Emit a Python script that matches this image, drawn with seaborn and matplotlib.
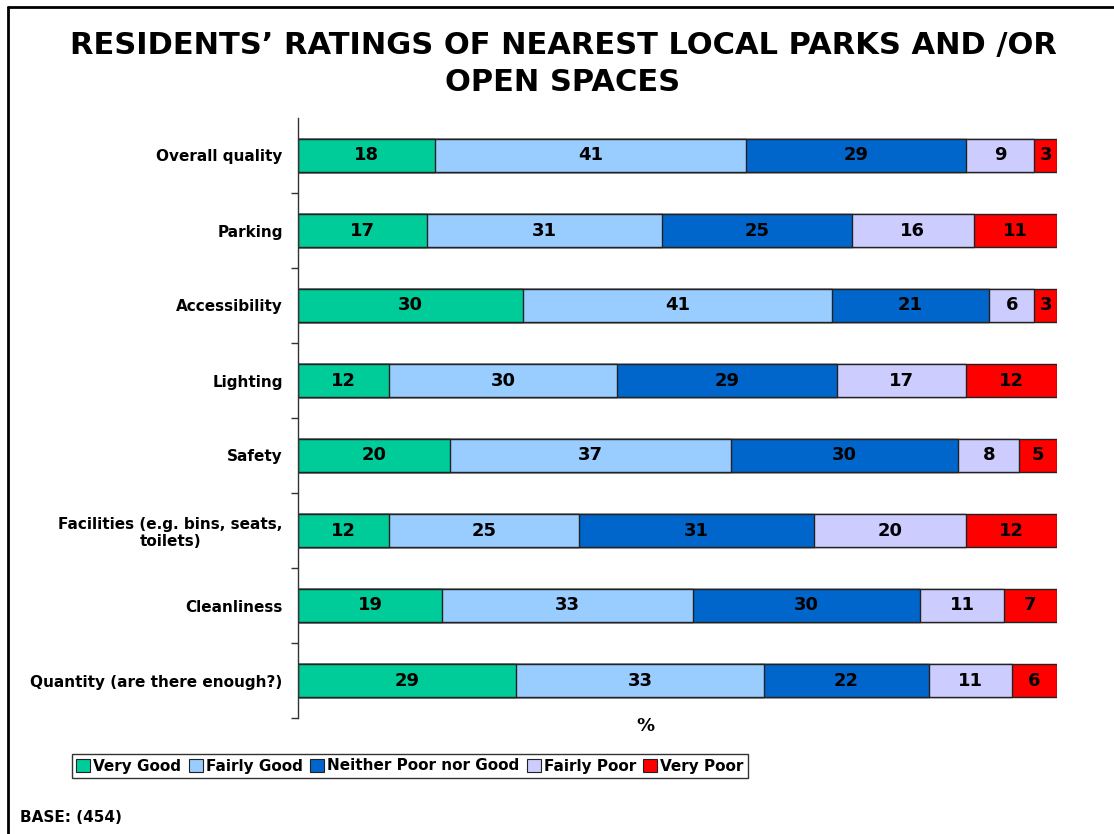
import numpy as np
import pandas as pd
import matplotlib
matplotlib.use("Agg")
import matplotlib.pyplot as plt
from matplotlib.lines import Line2D
from matplotlib.patches import Patch
from matplotlib.ticker import FixedLocator
import seaborn as sns

categories = ["Overall quality", "Parking", "Accessibility", "Lighting", "Safety",
              "Facilities (e.g. bins, seats,\ntoilets)", "Cleanliness",
              "Quantity (are there enough?)"]
series_names = ["Very Good", "Fairly Good", "Neither Poor nor Good", "Fairly Poor", "Very Poor"]
very_good = [18, 17, 30, 12, 20, 12, 19, 29]
fairly_good = [41, 31, 41, 30, 37, 25, 33, 33]
neither = [29, 25, 21, 29, 30, 31, 30, 22]
fairly_poor = [9, 16, 6, 17, 8, 20, 11, 11]
very_poor = [3, 11, 3, 12, 5, 12, 7, 6]
colors = ["#00CC99", "#99CCFF", "#0066CC", "#CCCCFF", "#FF0000"]

title = "RESIDENTS\u2019 RATINGS OF NEAREST LOCAL PARKS AND /OR\nOPEN SPACES"
x_label = "%"
base_text = "BASE: (454)"

sns.set_theme(style="white")
plt.rcParams["font.family"] = ["DejaVu Sans"]
plt.rcParams["text.color"] = "black"
plt.rcParams["ytick.labelcolor"] = "black"
plt.rcParams["xtick.labelcolor"] = "black"

vals = np.array([very_good, fairly_good, neither, fairly_poor, very_poor], dtype=float)
totals = vals.sum(axis=0)
norm = vals / totals * 100.0
cum = np.cumsum(norm, axis=0)

fig = plt.figure(figsize=(11.14, 8.34), dpi=100)
ax = fig.add_axes([298 / 1114, 1 - 718 / 834, (1057 - 298) / 1114, 600 / 834])

for i in reversed(range(len(series_names))):
    df = pd.DataFrame({"cat": categories, "val": cum[i]})
    sns.barplot(data=df, x="val", y="cat", color=colors[i], orient="h",
                width=0.45, edgecolor="#222222", linewidth=1.0,
                saturation=1, ax=ax)

for i in range(len(series_names)):
    for j in range(len(categories)):
        start = cum[i - 1][j] if i > 0 else 0.0
        center = start + norm[i][j] / 2
        ax.text(center, j, f"{int(vals[i][j])}", ha="center", va="center",
                fontsize=13, fontweight="bold", color="black")

ax.set_xlim(0, 100)
ax.set_ylim(len(categories) - 0.5, -0.5)
ax.set_xlabel("")
ax.set_ylabel("")
ax.set_xticks([])
for s in ["top", "right", "bottom"]:
    ax.spines[s].set_visible(False)
ax.spines["left"].set_color("#333333")
ax.spines["left"].set_linewidth(1.0)
ax.tick_params(axis="y", which="major", length=0, pad=11, labelsize=11, labelcolor="black")
ax.yaxis.set_minor_locator(FixedLocator(np.arange(0.5, len(categories), 1.0)))
ax.tick_params(axis="y", which="minor", length=5, width=1, color="#333333", direction="out", left=True)
for lab in ax.get_yticklabels():
    lab.set_fontweight("bold")
    lab.set_multialignment("center")
    lab.set_color("black")

fig.text(563 / 1114, 1 - 64 / 834, title, ha="center", va="center",
         fontsize=22, fontweight="heavy", linespacing=1.35, color="black")
fig.text(645 / 1114, 1 - 726 / 834, x_label, ha="center", va="center",
         fontsize=13, fontweight="bold", color="black")
fig.text(20 / 1114, 1 - 817 / 834, base_text, ha="left", va="center",
         fontsize=11, fontweight="bold", color="black")

handles = [Patch(facecolor=c, edgecolor="#222222", linewidth=0.8) for c in colors]
leg = fig.legend(handles, series_names, loc="center",
                 bbox_to_anchor=(410 / 1114, 1 - 766 / 834), ncol=5,
                 frameon=True, fancybox=False, edgecolor="black",
                 handlelength=0.9, handleheight=0.9, handletextpad=0.2,
                 columnspacing=0.5, borderpad=0.3, borderaxespad=0,
                 prop={"weight": "bold", "size": 11})
leg.get_frame().set_linewidth(1.0)
for t in leg.get_texts():
    t.set_color("black")

fig.add_artist(Line2D([8 / 1114, 8 / 1114], [0, 1 - 7 / 834], transform=fig.transFigure,
                      color="black", linewidth=2))
fig.add_artist(Line2D([8 / 1114, 1], [1 - 7 / 834, 1 - 7 / 834], transform=fig.transFigure,
                      color="black", linewidth=2))

fig.savefig("out.png", dpi=100)
